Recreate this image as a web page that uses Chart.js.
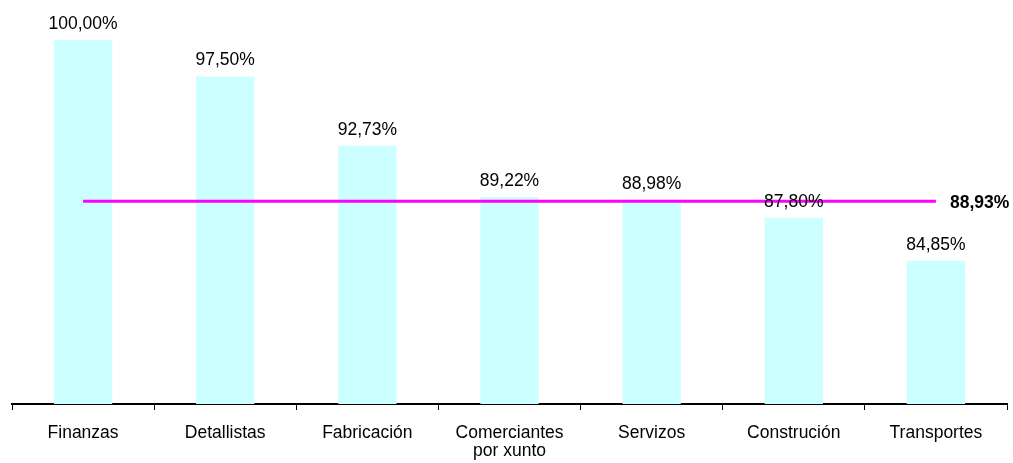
<!DOCTYPE html>
<html>
<head>
<meta charset="utf-8">
<script src="https://cdn.jsdelivr.net/npm/chart.js@4"></script>
<style>
  body { margin: 0; background: #fff; }
  #wrap { width: 1013px; height: 463px; position: relative; }
</style>
</head>
<body>
<div id="wrap"><canvas id="sectorChart"></canvas></div>
<script>
const categories = ['Finanzas', 'Detallistas', 'Fabricación', ['Comerciantes', 'por xunto'], 'Servizos', 'Construción', 'Transportes'];
const sectorValues = [100.00, 97.50, 92.73, 89.22, 88.98, 87.80, 84.85];
const averageValue = 88.93;
const averageLine = categories.map(() => averageValue);

const FONT = 'Liberation Sans, Arial, sans-serif';

function fmtPct(v) {
  return v.toFixed(2).replace('.', ',') + '%';
}

// labels above bars + bold label at end of average line
const valueLabels = {
  id: 'valueLabels',
  afterDraw(chart) {
    const ctx = chart.ctx;
    ctx.save();
    ctx.fillStyle = '#000';

    ctx.font = '17.5px ' + FONT;
    ctx.textAlign = 'center';
    ctx.textBaseline = 'alphabetic';
    const bars = chart.getDatasetMeta(0).data;
    bars.forEach((bar, i) => {
      ctx.fillText(fmtPct(sectorValues[i]), bar.x, bar.y - 11);
    });

    const pts = chart.getDatasetMeta(1).data;
    const last = pts[pts.length - 1];
    ctx.font = 'bold 17.5px ' + FONT;
    ctx.textAlign = 'left';
    ctx.textBaseline = 'middle';
    ctx.fillText(fmtPct(averageValue), last.x + 14, last.y + 2);
    ctx.restore();
  }
};

const ctx = document.getElementById('sectorChart').getContext('2d');
new Chart(ctx, {
  type: 'bar',
  data: {
    labels: categories,
    datasets: [
      {
        type: 'bar',
        data: sectorValues,
        backgroundColor: '#CCFFFF',
        categoryPercentage: 1,
        barPercentage: 0.41,
        order: 2
      },
      {
        type: 'line',
        data: averageLine,
        borderColor: '#FF00FF',
        borderWidth: 3,
        pointRadius: 0,
        fill: false,
        order: 1
      }
    ]
  },
  options: {
    responsive: true,
    maintainAspectRatio: false,
    animation: false,
    layout: { padding: { top: 40, left: 12, right: 6, bottom: 0 } },
    plugins: {
      legend: { display: false },
      tooltip: { enabled: false }
    },
    scales: {
      x: {
        grid: {
          display: true,
          drawOnChartArea: false,
          color: '#000',
          tickLength: 6,
          tickWidth: 1,
          offset: true
        },
        border: { display: true, color: '#000', width: 2 },
        ticks: {
          color: '#000',
          font: { family: FONT, size: 17.5, lineHeight: 1.05 },
          padding: 14,
          maxRotation: 0,
          autoSkip: false
        },
        afterFit(scale) {
          scale.height = 59;
        }
      },
      y: {
        display: false,
        min: 75,
        max: 100
      }
    }
  },
  plugins: [valueLabels]
});
</script>
</body>
</html>
